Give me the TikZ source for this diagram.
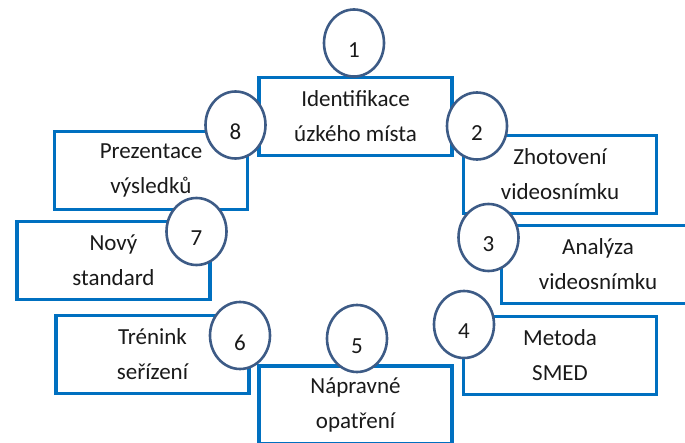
\documentclass[tikz,border=0pt]{standalone}
\usepackage{fontspec}
\setmainfont{Carlito}
\usetikzlibrary{shapes.geometric}
\definecolor{boxblue}{HTML}{0070C0}
\definecolor{ringblue}{HTML}{3D5B86}
\definecolor{inktext}{HTML}{1A1A1A}
\begin{document}
\begin{tikzpicture}[x=1pt,y=-1pt,
  stepbox/.style={draw=boxblue, line width=3.4pt, fill=white,
    minimum width=193pt, minimum height=78pt, align=center, inner sep=0pt,
    text=inktext, font=\fontsize{23}{35}\selectfont},
  badge/.style={ellipse, draw=ringblue, line width=2.6pt, fill=white,
    minimum width=60pt, minimum height=67pt, inner sep=0pt, text=inktext,
    font=\fontsize{23}{28}\selectfont, text height=29pt, text depth=0pt}]
\clip (0,0) rectangle (685,443);

% step boxes
\node[stepbox] (s1) at (355.5,116.5) {Identifikace\\úzkého místa};
\node[stepbox] (s2) at (560,174.5) {Zhotovení\\videosnímku};
\node[stepbox] (s3) at (598,264.5) {Analýza\\videosnímku};
\node[stepbox] (s4) at (560,355.5) {Metoda\\SMED};
\node[stepbox] (s5) at (355.5,405) {Nápravné\\opatření};
\node[stepbox] (s6) at (152.5,354.5) {Trénink\\seřízení};
\node[stepbox] (s7) at (113.5,260.5) {Nový\\standard};
\node[stepbox] (s8) at (151,170.5) {Prezentace\\výsledků};

% numbered badges
\node[badge] (n1) at (354,43) {1};
\node[badge] (n2) at (477,126) {2};
\node[badge] (n3) at (488.5,237.5) {3};
\node[badge] (n4) at (464,324.5) {4};
\node[badge] (n5) at (357,338.5) {5};
\node[badge] (n6) at (240,335.5) {6};
\node[badge] (n7) at (196.5,231.5) {7};
\node[badge] (n8) at (235.5,125) {8};
\end{tikzpicture}
\end{document}
